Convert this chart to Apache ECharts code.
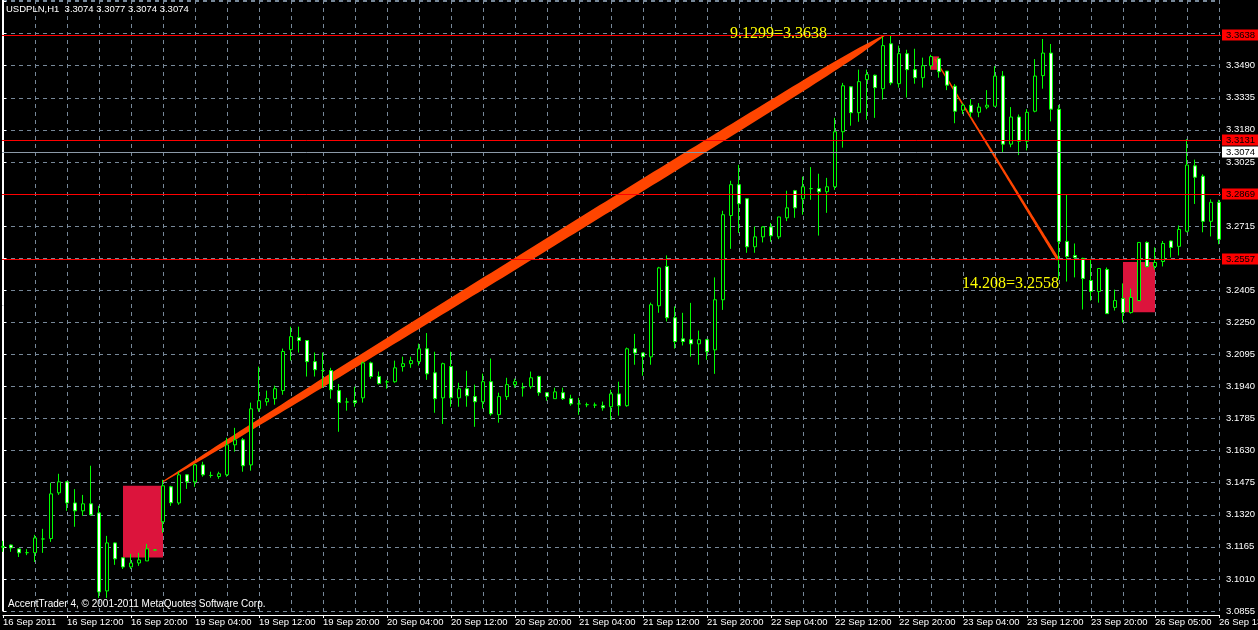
<!DOCTYPE html>
<html>
<head>
<meta charset="utf-8">
<script src="https://cdn.jsdelivr.net/npm/echarts@6/dist/echarts.min.js"></script>
<style>html,body{margin:0;padding:0;background:#000;}#chart{width:1258px;height:630px;}</style>
</head>
<body>
<div id="chart"></div>
<script>
// ---- data ----
const chartTitle = 'USDPLN,H1  3.3074 3.3077 3.3074 3.3074';
const footerText = 'AccentTrader 4, \u00A9 2001-2011 MetaQuotes Software Corp.';
const timeLabels = ['16 Sep 2011','16 Sep 12:00','16 Sep 20:00','19 Sep 04:00','19 Sep 12:00','19 Sep 20:00',
  '20 Sep 04:00','20 Sep 12:00','20 Sep 20:00','21 Sep 04:00','21 Sep 12:00','21 Sep 20:00','22 Sep 04:00',
  '22 Sep 12:00','22 Sep 20:00','23 Sep 04:00','23 Sep 12:00','23 Sep 20:00','26 Sep 05:00','26 Sep 13:00'];
const opens = [
3.1163,3.1174,3.1155,3.1137,3.1137,3.1203,3.1205,3.1426,3.1479,3.1377,
3.1339,3.1373,3.1329,3.0952,3.1184,3.1112,3.1068,3.1087,3.1097,3.1150,
3.1286,3.1455,3.1377,3.1513,3.1479,3.1561,3.1510,3.1505,3.1513,3.1658,
3.1682,3.1561,3.1832,3.1866,3.1881,3.1920,3.2118,3.2176,3.2162,3.2060,
3.2017,3.2017,3.1920,3.1865,3.1871,3.1885,3.2054,3.1988,3.1962,3.1963,
3.2036,3.2050,3.2060,3.2122,3.2006,3.1885,3.2036,3.1885,3.1929,3.1891,
3.1866,3.1963,3.1804,3.1891,3.1949,3.1934,3.1939,3.1988,3.1910,3.1881,
3.1910,3.1881,3.1856,3.1852,3.1850,3.1847,3.1842,3.1904,3.1847,3.2122,
3.2102,3.2083,3.2330,3.2520,3.2272,3.2170,3.2166,3.2146,3.2166,3.2117,
3.2359,3.2766,3.2915,3.2847,3.2615,3.2663,3.2711,3.2663,3.2755,3.2886,
3.2847,3.2896,3.2896,3.2881,3.2905,3.3171,3.3388,3.3263,3.3423,3.3444,
3.3379,3.3596,3.3403,3.3548,3.3471,3.3432,3.3490,3.3524,3.3464,3.3391,
3.3275,3.3299,3.3265,3.3290,3.3294,3.3440,3.3111,3.3242,3.3125,3.3270,
3.3442,3.3551,3.3280,3.2641,3.2573,3.2559,3.2452,3.2399,3.2505,3.2322,
3.2365,3.2297,3.2355,3.2636,3.2520,3.2544,3.2643,3.2617,3.2690,3.3006,
3.2956,3.2738,3.2830];
const closes = [
3.1167,3.1160,3.1136,3.1137,3.1208,3.1203,3.1421,3.1479,3.1377,3.1339,
3.1373,3.1320,3.0947,3.1184,3.1107,3.1068,3.1087,3.1102,3.1155,3.1150,
3.1460,3.1378,3.1513,3.1479,3.1561,3.1513,3.1510,3.1518,3.1658,3.1682,
3.1557,3.1832,3.1871,3.1881,3.1929,3.2109,3.2181,3.2162,3.2060,3.2021,
3.2017,3.1924,3.1862,3.1865,3.1862,3.2054,3.1988,3.1954,3.1962,3.2030,
3.2050,3.2065,3.2122,3.2001,3.1881,3.2050,3.1885,3.1929,3.1895,3.1866,
3.1963,3.1808,3.1891,3.1949,3.1963,3.1934,3.1982,3.1910,3.1891,3.1914,
3.1881,3.1856,3.1856,3.1852,3.1850,3.1837,3.1904,3.1847,3.2122,3.2102,
3.2084,3.2335,3.2513,3.2272,3.2157,3.2157,3.2146,3.2166,3.2108,3.2359,
3.2770,3.2915,3.2823,3.2615,3.2663,3.2711,3.2668,3.2759,3.2803,3.2803,
3.2905,3.2896,3.2881,3.2905,3.3171,3.3393,3.3263,3.3413,3.3447,3.3384,
3.3587,3.3407,3.3548,3.3471,3.3432,3.3490,3.3534,3.3461,3.3396,3.3270,
3.3299,3.3265,3.3290,3.3299,3.3440,3.3111,3.3242,3.3125,3.3265,3.3440,
3.3551,3.3280,3.2641,3.2568,3.2563,3.2462,3.2399,3.2510,3.2292,3.2355,
3.2297,3.2370,3.2636,3.2520,3.2539,3.2631,3.2612,3.2699,3.3010,3.2951,
3.2738,3.2830,3.2651];
const lows = [
3.1141,3.1141,3.1116,3.1125,3.1092,3.1136,3.1189,3.1416,3.1339,3.1262,
3.1315,3.1315,3.0918,3.0918,3.1078,3.1058,3.1058,3.1073,3.1097,3.1148,
3.1233,3.1363,3.1368,3.1445,3.1455,3.1504,3.1499,3.1494,3.1504,3.1625,
3.1528,3.1533,3.1818,3.1847,3.1852,3.1900,3.2065,3.2104,3.1988,3.1988,
3.1934,3.1881,3.1721,3.1823,3.1842,3.1862,3.1977,3.1949,3.1929,3.1958,
3.2012,3.2030,3.2041,3.1972,3.1813,3.1759,3.1842,3.1842,3.1842,3.1745,
3.1833,3.1799,3.1765,3.1875,3.1934,3.1891,3.1929,3.1895,3.1871,3.1881,
3.1875,3.1847,3.1803,3.1840,3.1836,3.1823,3.1778,3.1799,3.1842,3.2045,
3.1992,3.2045,3.2296,3.2254,3.2123,3.2138,3.2084,3.2045,3.2069,3.2001,
3.2310,3.2605,3.2682,3.2586,3.2586,3.2636,3.2639,3.2652,3.2739,3.2755,
3.2770,3.2842,3.2669,3.2779,3.2890,3.3094,3.3200,3.3219,3.3229,3.3238,
3.3326,3.3396,3.3384,3.3336,3.3403,3.3384,3.3471,3.3432,3.3372,3.3212,
3.3256,3.3241,3.3241,3.3280,3.3294,3.3072,3.3096,3.3058,3.3081,3.3265,
3.3379,3.3221,3.2457,3.2447,3.2467,3.2312,3.2355,3.2345,3.2292,3.2307,
3.2249,3.2292,3.2353,3.2515,3.2505,3.2520,3.2563,3.2573,3.2685,3.2822,
3.2685,3.2665,3.2627];
const highs = [
3.1194,3.1176,3.1157,3.1154,3.1223,3.1252,3.1475,3.1518,3.1482,3.1444,
3.1416,3.1557,3.1363,3.1218,3.1186,3.1114,3.1131,3.1136,3.1179,3.1153,
3.1489,3.1460,3.1528,3.1515,3.1566,3.1576,3.1528,3.1528,3.1692,3.1740,
3.1691,3.1862,3.2036,3.1920,3.1944,3.2123,3.2229,3.2229,3.2164,3.2104,
3.2104,3.2030,3.1952,3.1885,3.1939,3.2060,3.2060,3.2012,3.1972,3.2065,
3.2084,3.2084,3.2147,3.2198,3.2108,3.2055,3.2108,3.1958,3.2016,3.1949,
3.2002,3.2075,3.1910,3.1982,3.1978,3.1958,3.2012,3.1992,3.1912,3.1934,
3.1934,3.1900,3.1885,3.1862,3.1862,3.1867,3.1924,3.1963,3.2128,3.2194,
3.2104,3.2345,3.2518,3.2573,3.2327,3.2296,3.2344,3.2210,3.2170,3.2467,
3.2789,3.2934,3.3011,3.2849,3.2713,3.2715,3.2730,3.2760,3.2886,3.2890,
3.2954,3.3000,3.2968,3.2948,3.3238,3.3407,3.3390,3.3471,3.3471,3.3447,
3.3630,3.3638,3.3587,3.3567,3.3572,3.3529,3.3543,3.3529,3.3464,3.3401,
3.3309,3.3328,3.3309,3.3372,3.3488,3.3464,3.3290,3.3254,3.3280,3.3522,
3.3619,3.3595,3.3300,3.2868,3.2631,3.2562,3.2557,3.2512,3.2515,3.2408,
3.2438,3.2413,3.2638,3.2641,3.2612,3.2643,3.2645,3.2718,3.3135,3.3036,
3.2965,3.2844,3.2842];
const redLevels = [3.3638, 3.3131, 3.2869, 3.2557];
const bidLevel = 3.3074;
const yTickStart = 3.0855, yTickStep = 0.0155, yTop = 3.38075;
const barsPerLabel = 8;
// trend objects: [barStart, priceStart, barEnd, priceEnd]
const trendUp = [20, 3.1480, 110.25, 3.3638];
const trendDown = [116.5, 3.3522, 131.9, 3.2552];
const trendUpText = '9.1299=3.3638';
const trendDownText = '14.208=3.2558';
// rectangles: [barStart, priceTop, barEnd, priceBottom]
const boxes = [[15, 3.1460, 20, 3.1113], [116, 3.3535, 117, 3.3470], [140, 3.2541, 144, 3.2299]];

// ---- build ----
const candleData = opens.map((o, i) => [i, o, closes[i], lows[i], highs[i]]);
const lastBar = opens.length - 1;
const FONT = '"Liberation Sans", Arial, sans-serif';
const GRID_COLOR = '#778899';
const allLevels = redLevels.concat([bidLevel]);
const levelData = redLevels.map(v => [lastBar, v, 0]).concat([[lastBar, bidLevel, 1]]);

function interp(profile, u) {
  for (let k = 1; k < profile.length; k++) {
    if (u <= profile[k][0]) {
      const a = profile[k - 1], b = profile[k];
      return a[1] + (b[1] - a[1]) * (u - a[0]) / (b[0] - a[0]);
    }
  }
  return profile[profile.length - 1][1];
}
function bandRenderer(profile, color) {
  return function (params, api) {
    const a = api.coord([api.value(0), api.value(1)]);
    const b = api.coord([api.value(2), api.value(3)]);
    const dx = b[0] - a[0], dy = b[1] - a[1], len = Math.hypot(dx, dy);
    const nx = -dy / len, ny = dx / len;
    const top = [], bot = [];
    for (let k = 0; k <= 120; k++) {
      const u = k / 120, w = interp(profile, u) / 2;
      const x = a[0] + dx * u, y = a[1] + dy * u;
      top.push([x + nx * w, y + ny * w]);
      bot.push([x - nx * w, y - ny * w]);
    }
    return { type: 'polygon', shape: { points: top.concat(bot.reverse()) }, style: { fill: color } };
  };
}
const upProfile = [[0,1.2],[0.03,2.5],[0.08,4.5],[0.2,7.5],[0.35,9.5],[0.5,10.5],[0.65,11],[0.8,10.5],[0.91,9],[0.96,6.5],[0.985,3.5],[1,1]];
const downProfile = [[0,1.3],[0.5,2.2],[1,3]];

const chart = echarts.init(document.getElementById('chart'), null, { renderer: 'canvas' });
chart.setOption({
  backgroundColor: '#000',
  animation: false,
  textStyle: { fontFamily: FONT },
  title: [
    { text: chartTitle, left: 6, top: 4, padding: 0,
      textStyle: { color: '#fff', fontSize: 9.5, fontWeight: 'normal', fontFamily: FONT } },
    { text: footerText, left: 8, top: 599, padding: 0,
      textStyle: { color: '#fff', fontSize: 10, fontWeight: 'normal', fontFamily: FONT } }
  ],
  grid: { left: 3, right: 39, top: 0, bottom: 19, containLabel: false, outerBoundsMode: 'none' },
  xAxis: {
    type: 'value', min: 0, max: lastBar, interval: barsPerLabel, offset: 4,
    axisLine: { show: true, onZero: false, lineStyle: { color: '#fff', width: 1 } },
    axisTick: { show: true, length: 3, lineStyle: { color: '#fff' } },
    axisLabel: { color: '#fff', fontSize: 9.5, align: 'left', margin: 2, showMinLabel: true, showMaxLabel: true,
      formatter: v => timeLabels[Math.round(v / barsPerLabel)] || '' },
    splitLine: { show: true, lineStyle: { color: GRID_COLOR, type: [4, 4], width: 1 } },
    minorTick: { show: false, splitNumber: 2 },
    minorSplitLine: { show: true, lineStyle: { color: GRID_COLOR, type: [4, 4], width: 1 } }
  },
  yAxis: [
    {
      type: 'value', position: 'right', offset: 2, min: yTickStart, max: yTop, interval: yTickStep,
      axisLine: { show: true, lineStyle: { color: '#fff', width: 1 } },
      axisTick: { show: true, length: 3, lineStyle: { color: '#fff' } },
      axisLabel: { color: '#fff', fontSize: 9.5, margin: 5, showMinLabel: true, showMaxLabel: false,
        formatter: v => (v > yTop - 0.004 || allLevels.some(l => Math.abs(l - v) < 0.0035)) ? '' : v.toFixed(4) },
      splitLine: { show: true, lineStyle: { color: GRID_COLOR, type: [4, 4], width: 1 } }
    },
    {
      type: 'value', position: 'left', offset: 1, min: yTickStart, max: yTop, interval: yTickStep,
      axisLine: { show: true, lineStyle: { color: '#fff', width: 1 } },
      axisTick: { show: false }, axisLabel: { show: false }, splitLine: { show: false }
    }
  ],
  series: [
    {
      type: 'custom', name: 'boxes', z: 1, silent: true, clip: false,
      data: boxes, encode: { x: [0, 2], y: [1, 3] },
      renderItem: function (params, api) {
        const p1 = api.coord([api.value(0), api.value(1)]);
        const p2 = api.coord([api.value(2), api.value(3)]);
        return { type: 'rect', shape: { x: Math.min(p1[0], p2[0]), y: Math.min(p1[1], p2[1]),
          width: Math.abs(p2[0] - p1[0]), height: Math.abs(p2[1] - p1[1]) }, style: { fill: '#dc143c' } };
      }
    },
    {
      type: 'custom', name: 'trendUp', z: 1, silent: true, clip: false,
      data: [trendUp], encode: { x: [0, 2], y: [1, 3] },
      renderItem: bandRenderer(upProfile, '#ff4500')
    },
    {
      type: 'custom', name: 'trendDown', z: 1, silent: true, clip: false,
      data: [trendDown], encode: { x: [0, 2], y: [1, 3] },
      renderItem: bandRenderer(downProfile, '#ff4500')
    },
    {
      type: 'candlestick', name: 'USDPLN', z: 2, clip: false, barWidth: 4,
      data: candleData, encode: { x: 0, y: [1, 2, 3, 4] },
      itemStyle: { color: '#000', color0: '#fff', borderColor: '#00ff00', borderColor0: '#00ff00',
        borderColorDoji: '#00ff00', borderWidth: 1 }
    },
    {
      type: 'custom', name: 'levels', z: 3, silent: true, clip: false,
      data: levelData, encode: { x: 0, y: 1 },
      renderItem: function (params, api) {
        const cs = params.coordSys;
        const y = Math.round(api.coord([api.value(0), api.value(1)])[1]) + 0.5;
        const isBid = api.value(2) === 1;
        const lineColor = isBid ? '#8c9aa8' : '#ff0000';
        const boxColor = isBid ? '#ffffff' : '#ff0000';
        const right = cs.x + cs.width;
        return { type: 'group', children: [
          { type: 'line', shape: { x1: cs.x - 1, y1: y, x2: right + 2, y2: y },
            style: { stroke: lineColor, lineWidth: 1 } },
          { type: 'rect', shape: { x: right + 3, y: y - 6, width: 40, height: 11 }, style: { fill: boxColor } },
          { type: 'text', x: right + 7, y: y, style: { text: api.value(1).toFixed(4), fill: '#000',
            font: '9.5px "Liberation Sans", Arial, sans-serif', align: 'left', verticalAlign: 'middle' } }
        ] };
      }
    }
  ],
  graphic: [
    { type: 'text', left: 730, top: 26, z: 10, silent: true,
      style: { text: trendUpText, fill: '#ffff00', font: '16px "Liberation Serif", "Times New Roman", serif' } },
    { type: 'text', left: 962, top: 276, z: 10, silent: true,
      style: { text: trendDownText, fill: '#ffff00', font: '16px "Liberation Serif", "Times New Roman", serif' } }
  ]
});
</script>
</body>
</html>
